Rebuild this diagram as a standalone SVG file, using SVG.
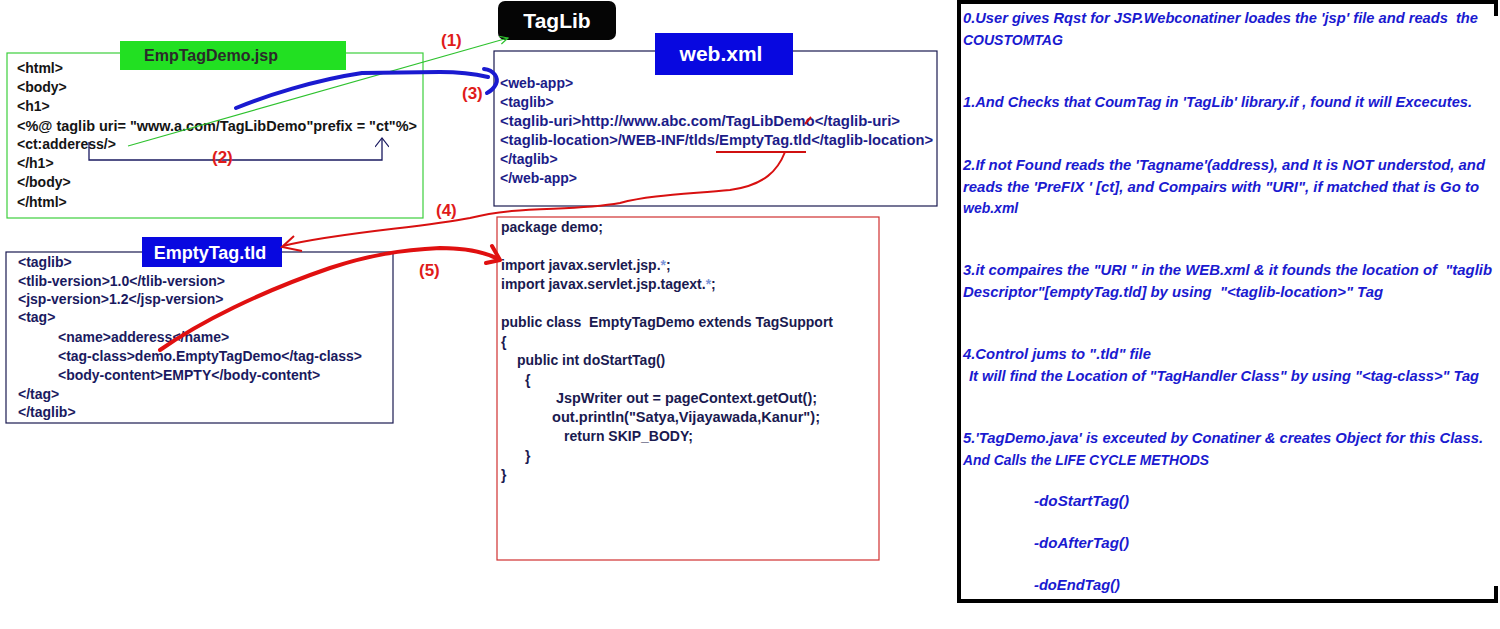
<svg xmlns="http://www.w3.org/2000/svg" width="1500" height="629" viewBox="0 0 1500 629">
<style>
text{font-family:"Liberation Sans",Arial,sans-serif;white-space:pre}
.code{font-size:14px;font-weight:bold}
.jsp{fill:#141414}
.wx{fill:#1c1c88}
.tld{fill:#1a1a60}
.java{fill:#1a1a50}
.note{font-size:14px;font-weight:bold;font-style:italic;fill:#1a1ad0}
.lbl{font-size:17px;font-weight:bold;fill:#e01b1b}
.title{font-weight:bold;text-anchor:middle;dominant-baseline:central}
.star{fill:#7a94d8}
</style>
<defs>
<marker id="arG" markerWidth="12" markerHeight="12" refX="9" refY="5" orient="auto" markerUnits="userSpaceOnUse"><path d="M1,1 L9,5 L1,9" fill="none" stroke="#2ec22e" stroke-width="1.2"/></marker>
<marker id="arN" markerWidth="20" markerHeight="14" refX="10" refY="7" orient="auto" markerUnits="userSpaceOnUse"><path d="M1,0 L10,7 L1,14" fill="none" stroke="#1a1a60" stroke-width="1.2"/></marker>
</defs>
<rect width="1500" height="629" fill="#ffffff"/>

<g id="jsp">
<rect x="7" y="53" width="416" height="165" fill="none" stroke="#3ccf3c" stroke-width="1.2"/>
<rect x="120" y="41" width="226" height="29" fill="#22e022"/>
<text class="title" x="211" y="55" font-size="16" fill="#2a2a2a">EmpTagDemo.jsp</text>
<text class="code jsp" x="17" y="73">&lt;html&gt;</text>
<text class="code jsp" x="17" y="92">&lt;body&gt;</text>
<text class="code jsp" x="17" y="111">&lt;h1&gt;</text>
<text class="code jsp" x="17" y="131" textLength="400" lengthAdjust="spacingAndGlyphs">&lt;%@ taglib uri= "www.a.com/TagLibDemo"prefix = "ct"%&gt;</text>
<text class="code jsp" x="17" y="149">&lt;ct:adderess/&gt;</text>
<text class="code jsp" x="17" y="168">&lt;/h1&gt;</text>
<text class="code jsp" x="17" y="187">&lt;/body&gt;</text>
<text class="code jsp" x="17" y="207">&lt;/html&gt;</text>
</g>

<g id="taglib">
<rect x="498" y="1" width="118" height="39" rx="7" fill="#050505"/>
<text class="title" x="557" y="20" font-size="21" fill="#ffffff">TagLib</text>
</g>

<g id="webxml">
<rect x="494" y="51" width="443" height="155" fill="none" stroke="#1a1a50" stroke-width="1.2"/>
<rect x="655" y="33" width="138" height="42" fill="#0808e0"/>
<text class="title" x="721" y="53" font-size="21" fill="#ffffff">web.xml</text>
<text class="code wx" x="500" y="88">&lt;web-app&gt;</text>
<text class="code wx" x="500" y="107">&lt;taglib&gt;</text>
<text class="code wx" x="500" y="126" textLength="400" lengthAdjust="spacingAndGlyphs">&lt;taglib-uri&gt;http://www.abc.com/TagLibDemo&lt;/taglib-uri&gt;</text>
<text class="code wx" x="500" y="145" textLength="433" lengthAdjust="spacingAndGlyphs">&lt;taglib-location&gt;/WEB-INF/tlds/EmptyTag.tld&lt;/taglib-location&gt;</text>
<text class="code wx" x="500" y="164">&lt;/taglib&gt;</text>
<text class="code wx" x="500" y="183">&lt;/web-app&gt;</text>
<path d="M805,124 L811,117" stroke="#d01010" stroke-width="2" fill="none"/>
</g>

<g id="tld">
<rect x="6" y="252" width="387" height="171" fill="none" stroke="#1a1a50" stroke-width="1.2"/>
<rect x="142" y="237" width="140" height="30" fill="#0808e0"/>
<text class="title" x="210" y="253" font-size="18" fill="#ffffff">EmptyTag.tld</text>
<text class="code tld" x="18" y="267">&lt;taglib&gt;</text>
<text class="code tld" x="18" y="286">&lt;tlib-version&gt;1.0&lt;/tlib-version&gt;</text>
<text class="code tld" x="18" y="304">&lt;jsp-version&gt;1.2&lt;/jsp-version&gt;</text>
<text class="code tld" x="18" y="322">&lt;tag&gt;</text>
<text class="code tld" x="58" y="342">&lt;name&gt;adderess&lt;/name&gt;</text>
<text class="code tld" x="58" y="361" textLength="304" lengthAdjust="spacingAndGlyphs">&lt;tag-class&gt;demo.EmptyTagDemo&lt;/tag-class&gt;</text>
<text class="code tld" x="58" y="380">&lt;body-content&gt;EMPTY&lt;/body-content&gt;</text>
<text class="code tld" x="18" y="399">&lt;/tag&gt;</text>
<text class="code tld" x="18" y="417">&lt;/taglib&gt;</text>
</g>

<g id="java">
<rect x="497" y="217" width="382" height="343" fill="none" stroke="#d03030" stroke-width="1.2"/>
<text class="code java" x="501" y="232">package demo;</text>
<text class="code java" x="501" y="270">import javax.servlet.jsp.<tspan class="star">*</tspan>;</text>
<text class="code java" x="501" y="289">import javax.servlet.jsp.tagext.<tspan class="star">*</tspan>;</text>
<text class="code java" x="501" y="327" textLength="332" lengthAdjust="spacingAndGlyphs">public class  EmptyTagDemo extends TagSupport</text>
<text class="code java" x="501" y="347">{</text>
<text class="code java" x="517" y="365">public int doStartTag()</text>
<text class="code java" x="525" y="385">{</text>
<text class="code java" x="556" y="403" textLength="261" lengthAdjust="spacingAndGlyphs">JspWriter out = pageContext.getOut();</text>
<text class="code java" x="552" y="422" textLength="268" lengthAdjust="spacingAndGlyphs">out.println("Satya,Vijayawada,Kanur");</text>
<text class="code java" x="564" y="441">return SKIP_BODY;</text>
<text class="code java" x="525" y="461">}</text>
<text class="code java" x="501" y="480">}</text>
</g>

<g id="notes">
<path d="M959,0 V603 M957,2 H1497 M957,601 H1497 M1496,0 V16 M1496,586 V603" fill="none" stroke="#000000" stroke-width="4"/>
<text class="note" x="963" y="23" textLength="515" lengthAdjust="spacingAndGlyphs">0.User gives Rqst for JSP.Webconatiner loades the 'jsp' file and reads  the</text>
<text class="note" x="963" y="45">COUSTOMTAG</text>
<text class="note" x="963" y="107" textLength="509" lengthAdjust="spacingAndGlyphs">1.And Checks that CoumTag in 'TagLib' library.if , found it will Excecutes.</text>
<text class="note" x="963" y="170" textLength="522" lengthAdjust="spacingAndGlyphs">2.If not Found reads the 'Tagname'(address), and It is NOT understod, and</text>
<text class="note" x="963" y="192" textLength="516" lengthAdjust="spacingAndGlyphs">reads the 'PreFIX ' [ct], and Compairs with "URI", if matched that is Go to</text>
<text class="note" x="963" y="213">web.xml</text>
<text class="note" x="963" y="275" textLength="529" lengthAdjust="spacingAndGlyphs">3.it compaires the "URI " in the WEB.xml &amp; it founds the location of  "taglib</text>
<text class="note" x="963" y="297" textLength="420" lengthAdjust="spacingAndGlyphs">Descriptor"[emptyTag.tld] by using  "&lt;taglib-location&gt;" Tag</text>
<text class="note" x="963" y="359" textLength="188" lengthAdjust="spacingAndGlyphs">4.Control jums to ".tld" file</text>
<text class="note" x="969" y="381" textLength="510" lengthAdjust="spacingAndGlyphs">It will find the Location of "TagHandler Class" by using "&lt;tag-class&gt;" Tag</text>
<text class="note" x="963" y="443" textLength="520" lengthAdjust="spacingAndGlyphs">5.'TagDemo.java' is exceuted by Conatiner &amp; creates Object for this Class.</text>
<text class="note" x="963" y="465" textLength="246" lengthAdjust="spacingAndGlyphs">And Calls the LIFE CYCLE METHODS</text>
<text class="note" x="1034" y="506" textLength="95" lengthAdjust="spacingAndGlyphs">-doStartTag()</text>
<text class="note" x="1034" y="548" textLength="95" lengthAdjust="spacingAndGlyphs">-doAfterTag()</text>
<text class="note" x="1034" y="590" textLength="86" lengthAdjust="spacingAndGlyphs">-doEndTag()</text>
</g>

<g id="connectors" fill="none">
<path d="M128,146 L508,38" stroke="#2ec22e" stroke-width="1.1" marker-end="url(#arG)"/>
<path d="M89,142 V160 H382 V138" stroke="#1a1a60" stroke-width="1.3" marker-end="url(#arN)"/>
<path d="M236,108 C265,96 315,80 362,73 L440,72 C460,72 475,74 488,77" stroke="#1a1ad0" stroke-width="4" stroke-linecap="round"/>
<path d="M484,69 C494,70 499,78 496,84 C494,88 491,91 487,93" stroke="#1a1ad0" stroke-width="4" stroke-linecap="round"/>
<path d="M716,152 H806" stroke="#d01010" stroke-width="2"/>
<path d="M785,152 C778,170 765,185 730,190 C690,194 650,195 620,203 C570,212 520,205 470,218 C420,228 340,232 283,246" stroke="#d81010" stroke-width="2"/>
<path d="M294,236 L282,247 L302,251" stroke="#d81010" stroke-width="2"/>
<path d="M160,350 C200,322 260,292 330,268 C370,255 400,250 440,248 C465,248 485,252 498,259" stroke="#e01010" stroke-width="4" stroke-linecap="round"/>
<path d="M492,246 L500,260 L486,263" stroke="#e01010" stroke-width="4" stroke-linecap="round" stroke-linejoin="round"/>
<text class="lbl" x="441" y="46">(1)</text>
<text class="lbl" x="212" y="163">(2)</text>
<text class="lbl" x="462" y="99">(3)</text>
<text class="lbl" x="436" y="216">(4)</text>
<text class="lbl" x="419" y="276">(5)</text>
</g>
</svg>
